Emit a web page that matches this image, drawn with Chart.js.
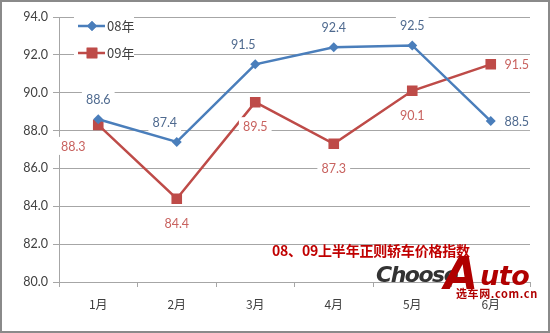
<!DOCTYPE html>
<html>
<head>
<meta charset="utf-8">
<script src="https://cdn.jsdelivr.net/npm/chart.js@4/dist/chart.umd.min.js"></script>
<style>
  html, body { margin: 0; padding: 0; background: #fff; }
  #wrap { position: relative; width: 550px; height: 333px; overflow: hidden; }
  canvas { position: absolute; left: 0; top: 0; }
  .title { position: absolute; left: 272px; top: 240px; font: bold 14px "Noto Sans CJK SC", sans-serif; color: #c00000; white-space: nowrap; letter-spacing: -0.2px; }
  .logo1 { position: absolute; left: 376px; top: 262px; font: italic 900 22px "DejaVu Sans", sans-serif; color: #333; letter-spacing: -1.5px; }
  .logoA { position: absolute; left: 444px; top: 250px; font: italic 900 44px "DejaVu Sans", sans-serif; color: #b00000; line-height: 48px; }
  .logoB { position: absolute; left: 480px; top: 261px; font: italic 900 27px "DejaVu Sans", sans-serif; color: #b00000; letter-spacing: -0.5px; line-height: 30px; }
  .logo3 { position: absolute; left: 456px; top: 287px; font: bold 11px "Noto Sans CJK SC", sans-serif; color: #b00000; white-space: nowrap; line-height: 12px; letter-spacing: 0.6px; }
</style>
</head>
<body>
<div id="wrap">
  <canvas id="c" width="550" height="333"></canvas>
  <div class="title">08、09上半年正则轿车价格指数</div>
  <div class="logo1">Choose</div>
  <div class="logoA">A</div>
  <div class="logoB">uto</div>
  <div class="logo3">选车网.com.cn</div>
</div>
<script>
const months = ['1月', '2月', '3月', '4月', '5月', '6月'];
const series08 = [88.6, 87.4, 91.5, 92.4, 92.5, 88.5];
const series09 = [88.3, 84.4, 89.5, 87.3, 90.1, 91.5];
const seriesNames = ['08年', '09年'];
const yTicks = [80, 82, 84, 86, 88, 90, 92, 94];

// where each value label sits relative to its point
const labelPos08 = ['above', 'leftAbove', 'leftAbove', 'above', 'above', 'right'];
const labelPos09 = ['leftBelow', 'below', 'below', 'below', 'below', 'right'];

const BLUE = '#4a7ebb';
const RED = '#be4b48';

const valueLabels = {
  id: 'valueLabels',
  afterDatasetsDraw(chart) {
    const ctx = chart.ctx;
    ctx.save();
    ctx.font = '12.5px Lato, "Open Sans", sans-serif';
    ctx.textAlign = 'center';
    ctx.textBaseline = 'middle';
    chart.data.datasets.forEach((ds, di) => {
      const meta = chart.getDatasetMeta(di);
      const pos = di === 0 ? labelPos08 : labelPos09;
      meta.data.forEach((pt, i) => {
        const txt = ds.data[i].toFixed(1);
        let x = pt.x, y = pt.y;
        switch (pos[i]) {
          case 'above': y -= 20; break;
          case 'below': y += 24; break;
          case 'leftAbove': x -= 12; y -= 20; break;
          case 'leftBelow': x -= 25; y += 21; break;
          case 'right': x += 26; break;
        }
        const w = ctx.measureText(txt).width + 8;
        ctx.fillStyle = '#fff';
        ctx.fillRect(x - w / 2, y - 9, w, 18);
        ctx.fillStyle = di === 0 ? '#4f6a8f' : '#c8625f';
        ctx.fillText(txt, x, y + 1);
      });
    });
    ctx.restore();
  }
};

const innerLegend = {
  id: 'innerLegend',
  afterDraw(chart) {
    const ctx = chart.ctx;
    ctx.save();
    const rows = [{ y: 26, color: BLUE, style: 'rectRot', r: 5 }, { y: 53, color: RED, style: 'rect', r: 7.5 }];
    rows.forEach((row, i) => {
      ctx.fillStyle = '#fff';
      ctx.fillRect(74, row.y - 10, 60, 20);
      ctx.strokeStyle = row.color;
      ctx.lineWidth = 2.5;
      ctx.beginPath();
      ctx.moveTo(78, row.y);
      ctx.lineTo(105, row.y);
      ctx.stroke();
      ctx.fillStyle = row.color;
      Chart.helpers.drawPoint(ctx, { pointStyle: row.style, radius: row.r, borderWidth: 0 }, 92, row.y);
      ctx.fill();
      ctx.fillStyle = '#404040';
      ctx.font = '13px "Noto Sans CJK SC", sans-serif';
      ctx.textAlign = 'left';
      ctx.textBaseline = 'middle';
      ctx.fillText(seriesNames[i], 107, row.y);
    });
    // outer frame
    ctx.strokeStyle = '#8a8a8a';
    ctx.lineWidth = 2;
    ctx.strokeRect(1, 1, 548, 331);
    ctx.restore();
  }
};

new Chart(document.getElementById('c'), {
  type: 'line',
  data: {
    labels: months,
    datasets: [
      { label: seriesNames[0], data: series08, borderColor: BLUE, backgroundColor: BLUE, borderWidth: 2.5,
        pointStyle: 'rectRot', pointRadius: 5, pointBorderWidth: 0, tension: 0 },
      { label: seriesNames[1], data: series09, borderColor: RED, backgroundColor: RED, borderWidth: 2.5,
        pointStyle: 'rect', pointRadius: 7.5, pointBorderWidth: 0, tension: 0 }
    ]
  },
  options: {
    responsive: false,
    animation: false,
    layout: { padding: { left: 0, right: 20, top: 17, bottom: 0 } },
    plugins: { legend: { display: false }, tooltip: { enabled: false } },
    scales: {
      x: {
        offset: true,
        grid: { offset: true, drawOnChartArea: false, tickLength: 5, color: '#a6a6a6' },
        border: { color: '#a6a6a6' },
        ticks: { padding: 10, color: '#404040', font: { size: 12, family: '"Noto Sans CJK SC", sans-serif' } },
        afterFit(s) { s.height = 51; }
      },
      y: {
        min: 80, max: 94,
        afterBuildTicks(s) { s.ticks = yTicks.map(v => ({ value: v })); },
        grid: { color: '#a6a6a6', tickLength: 6 },
        border: { color: '#a6a6a6' },
        ticks: { padding: 5, color: '#404040', font: { size: 12.5, family: 'Lato, "Open Sans", sans-serif' },
          callback: v => Number(v).toFixed(1) },
        afterFit(s) { s.width = 59; }
      }
    }
  },
  plugins: [valueLabels, innerLegend]
});
</script>
</body>
</html>
